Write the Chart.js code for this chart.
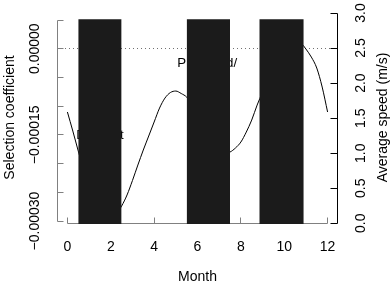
<!DOCTYPE html>
<html><head><meta charset="utf-8">
<script src="https://cdn.jsdelivr.net/npm/chart.js@4.4.0/dist/chart.umd.min.js"></script>
<style>html,body{margin:0;padding:0;background:#fff;}#wrap{width:391px;height:295px;}</style>
</head><body><div id="wrap"><canvas id="c" width="391" height="295"></canvas></div>
<script>
// ---- data ----
const months = [0,0.25,0.5,0.75,1,1.25,1.5,1.75,2,2.25,2.5,2.75,3,3.25,3.5,3.75,4,4.25,4.5,4.75,5,5.25,5.5,5.75,6,6.25,6.5,6.75,7,7.25,7.5,7.75,8,8.25,8.5,8.75,9,9.25,9.5,9.75,10,10.25,10.5,10.75,11,11.25,11.5,11.75,12];
const selection = [-0.0001102,-0.0001433,-0.0001781,-0.0002112,-0.0002391,-0.0002635,-0.0002826,-0.0002948,-0.0002966,-0.0002878,-0.0002739,-0.0002547,-0.0002295,-0.0002025,-0.0001764,-0.0001520,-0.0001276,-0.0001033,-0.0000859,-0.0000763,-0.0000737,-0.0000780,-0.0000841,-0.0000963,-0.0001120,-0.0001294,-0.0001485,-0.0001642,-0.0001764,-0.0001816,-0.0001799,-0.0001729,-0.0001625,-0.0001451,-0.0001242,-0.0000981,-0.0000754,-0.0000510,-0.0000266,-0.0000040,0.0000151,0.0000273,0.0000221,0.0000117,-0.0000005,-0.0000145,-0.0000336,-0.0000667,-0.0001102];
const wetStart = [0.5, 5.5, 8.85];
const wetEnd = [2.5, 7.5, 10.9];
const wetLevel = [0.97, 0.97, 0.97];
const monthTicks = [0,2,4,6,8,10,12];
const selTicks = [-0.0003,-0.00025,-0.0002,-0.00015,-0.0001,-0.00005,0,0.00005];
const selLabelled = [-0.0003,-0.00015,0];
const speedTicks = [0,0.5,1,1.5,2,2.5,3];
const refLevel = 0;
const noteText = ['Predicted/','Drought'];
const noteMonth = [6.45, 1.5];
const noteSel = [-0.000025, -0.00015];
const xTitle = 'Month';
const yLeftTitle = 'Selection coefficient';
const yRightTitle = 'Average speed (m/s)';

const FONT = '"Liberation Sans", Arial, Helvetica, sans-serif';
const crisp = p => Math.floor(p) + 0.5;
const fmtSel = v => v.toFixed(5).replace('-', '\u2212');

function rotText(ctx, txt, x, y){
  ctx.save(); ctx.translate(x, y); ctx.rotate(-Math.PI/2);
  ctx.textAlign = 'center'; ctx.textBaseline = 'middle';
  ctx.fillText(txt, 0, 0); ctx.restore();
}

const rAxes = {
  id: 'rAxes',
  beforeDatasetsDraw(chart){
    const {ctx, chartArea:a, scales} = chart;
    const x = scales.x, ys = scales.ySel;
    ctx.save();
    ctx.lineWidth = 1;
    ctx.strokeStyle = '#707070';
    ctx.setLineDash([1,3]);
    const yr = crisp(ys.getPixelForValue(refLevel));
    ctx.beginPath(); ctx.moveTo(a.left, yr); ctx.lineTo(a.right, yr); ctx.stroke();
    ctx.setLineDash([]);
    ctx.strokeStyle = '#808080';
    const xl = crisp(a.left);
    ctx.beginPath();
    ctx.moveTo(xl, crisp(ys.getPixelForValue(selTicks[selTicks.length-1])));
    ctx.lineTo(xl, crisp(ys.getPixelForValue(selTicks[0])));
    selTicks.forEach(v => { const y = crisp(ys.getPixelForValue(v)); ctx.moveTo(xl, y); ctx.lineTo(xl + 6, y); });
    ctx.stroke();
    const yb = crisp(a.bottom - 1);
    ctx.beginPath();
    ctx.moveTo(crisp(x.getPixelForValue(monthTicks[0])), yb);
    ctx.lineTo(crisp(x.getPixelForValue(monthTicks[monthTicks.length-1])), yb);
    monthTicks.forEach(v => { const px = crisp(x.getPixelForValue(v)); ctx.moveTo(px, yb); ctx.lineTo(px, yb - 6); });
    ctx.stroke();
    ctx.fillStyle = '#000';
    ctx.font = '14px ' + FONT;
    selLabelled.forEach(v => rotText(ctx, fmtSel(v), 35.5, ys.getPixelForValue(v)));
    ctx.textAlign = 'center'; ctx.textBaseline = 'middle';
    monthTicks.forEach(v => ctx.fillText(String(v), x.getPixelForValue(v), 247));
    ctx.fillText(xTitle, (a.left + a.right)/2, 277);
    rotText(ctx, yLeftTitle, 10, (a.top + a.bottom)/2 - 1);
    ctx.font = '13.3px ' + FONT;
    ctx.textAlign = 'center'; ctx.textBaseline = 'middle';
    noteText.forEach((t,i) => ctx.fillText(t, x.getPixelForValue(noteMonth[i]), ys.getPixelForValue(noteSel[i])));
    ctx.restore();
  },
  afterDatasetsDraw(chart){
    const {ctx, chartArea:a, scales} = chart;
    const sp = scales.ySpeed;
    ctx.save();
    ctx.lineWidth = 1; ctx.strokeStyle = '#000';
    const xr = crisp(a.right - 1);
    ctx.beginPath();
    ctx.moveTo(xr, crisp(sp.getPixelForValue(speedTicks[speedTicks.length-1])));
    ctx.lineTo(xr, crisp(sp.getPixelForValue(speedTicks[0])));
    speedTicks.forEach(v => { const y = crisp(sp.getPixelForValue(v)); ctx.moveTo(xr, y); ctx.lineTo(xr - 7, y); });
    ctx.stroke();
    ctx.fillStyle = '#000';
    ctx.font = '14px ' + FONT;
    speedTicks.forEach(v => rotText(ctx, v.toFixed(1), 361.5, sp.getPixelForValue(v)));
    rotText(ctx, yRightTitle, 383, (a.top + a.bottom)/2 - 1);
    ctx.restore();
  }
};

const datasets = wetStart.map((s,i) => ({
  type: 'line',
  data: [{x: s, y: wetLevel[i]}, {x: wetEnd[i], y: wetLevel[i]}],
  xAxisID: 'x', yAxisID: 'yWet',
  fill: 'start', backgroundColor: '#1b1b1b',
  borderWidth: 0, borderColor: 'rgba(0,0,0,0)', pointRadius: 0, order: 0
}));
datasets.push({
  type: 'line',
  data: months.map((m,i) => ({x: m, y: selection[i]})),
  xAxisID: 'x', yAxisID: 'ySel',
  borderColor: '#000', borderWidth: 1, pointRadius: 0, fill: false,
  cubicInterpolationMode: 'monotone', order: 1
});

new Chart(document.getElementById('c'), {
  type: 'line',
  data: { datasets },
  options: {
    responsive: false, animation: false, devicePixelRatio: 1,
    layout: { padding: { left: 57, right: 53, top: 13, bottom: 71 } },
    plugins: { legend: {display:false}, tooltip: {enabled:false} },
    scales: {
      x: { type: 'linear', min: -0.48, max: 12.48, display: false },
      ySel: { type: 'linear', position: 'left', min: -0.0003052, max: 0.0000622, display: false },
      ySpeed: { type: 'linear', position: 'right', min: -0.01, max: 3.0, display: false },
      yWet: { type: 'linear', position: 'right', min: 0, max: 1, display: false }
    }
  },
  plugins: [rAxes]
});
</script></body></html>
